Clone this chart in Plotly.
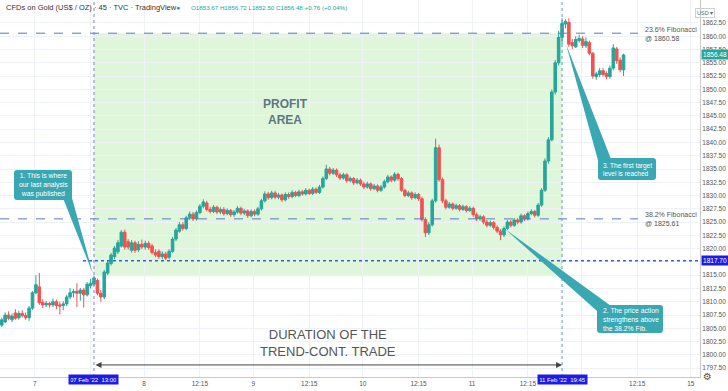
import pandas as pd
import plotly.graph_objects as go

# ---------------- data (45-minute candles, TVC:GOLD) ----------------
open_ = [1805.6, 1806.2, 1807.5, 1806.6, 1807.9, 1807.0, 1807.8, 1807.4, 1807.0, 1808.8,
         1811.7, 1812.8, 1809.9, 1809.4, 1809.7, 1809.4, 1810.0, 1809.4, 1809.3, 1809.6,
         1810.9, 1811.7, 1812.0, 1811.6, 1812.2, 1811.3, 1813.0, 1813.3, 1814.0, 1811.6,
         1810.9, 1815.4, 1817.2, 1818.5, 1819.4, 1820.5, 1823.1, 1821.3, 1819.7, 1821.1,
         1819.8, 1820.8, 1820.3, 1821.0, 1820.5, 1819.3, 1819.5, 1818.5, 1819.0, 1818.4,
         1819.5, 1821.8, 1823.3, 1824.5, 1823.8, 1825.8, 1826.5, 1825.6, 1826.8, 1828.0,
         1828.6, 1827.4, 1827.0, 1827.8, 1826.9, 1827.4, 1826.6, 1827.2, 1826.4, 1826.9,
         1827.6, 1826.7, 1827.1, 1826.2, 1827.0, 1826.5, 1827.5, 1829.0, 1830.3, 1829.6,
         1830.5, 1829.7, 1830.1, 1829.2, 1830.2, 1829.8, 1830.6, 1830.0, 1830.7, 1830.3,
         1831.0, 1830.4, 1831.2, 1830.6, 1831.6, 1833.2, 1835.0, 1834.2, 1834.8, 1833.9,
         1833.3, 1833.9, 1832.8, 1833.2, 1832.4, 1832.9, 1832.2, 1831.6, 1832.2, 1831.3,
         1831.8, 1831.0, 1831.6, 1832.6, 1833.5, 1832.9, 1834.0, 1833.2, 1831.0, 1830.0,
         1830.5, 1829.6, 1830.2, 1829.4, 1825.5, 1823.0, 1824.5, 1829.0, 1839.0, 1833.0,
         1829.0, 1827.8, 1828.4, 1827.6, 1828.1, 1827.4, 1827.9, 1827.2, 1827.6, 1826.4,
         1825.6, 1826.0, 1825.0, 1824.4, 1824.9, 1824.0, 1823.3, 1822.6, 1823.8, 1825.0,
         1824.4, 1825.4, 1825.0, 1826.2, 1825.6, 1826.6, 1827.0, 1826.3, 1828.2, 1831.0,
         1836.5, 1840.5, 1849.5, 1855.0, 1859.8, 1862.3, 1862.6, 1858.8, 1858.0, 1859.2,
         1859.5, 1858.2, 1858.8, 1856.8, 1852.4, 1852.8, 1853.5, 1853.0, 1852.4, 1854.0,
         1857.6, 1855.5, 1853.67]
high = [1807.0, 1808.0, 1808.2, 1807.8, 1808.6, 1808.3, 1808.4, 1808.0, 1809.2, 1812.0,
        1815.0, 1815.4, 1810.5, 1810.2, 1810.0, 1810.6, 1810.4, 1810.0, 1810.1, 1811.3,
        1812.6, 1812.4, 1813.5, 1812.6, 1812.6, 1813.7, 1814.3, 1814.9, 1814.4, 1812.2,
        1816.0, 1817.7, 1819.2, 1820.5, 1821.6, 1823.5, 1823.6, 1821.8, 1821.6, 1821.5,
        1821.4, 1821.7, 1821.5, 1821.4, 1820.9, 1819.9, 1819.9, 1819.5, 1819.4, 1819.9,
        1822.2, 1823.9, 1825.0, 1825.0, 1826.2, 1827.0, 1826.9, 1827.2, 1828.4, 1829.3,
        1829.0, 1827.9, 1828.2, 1828.1, 1827.8, 1827.8, 1827.6, 1827.5, 1827.3, 1828.0,
        1827.9, 1827.5, 1827.4, 1827.4, 1827.4, 1827.9, 1829.4, 1830.8, 1830.7, 1830.9,
        1830.9, 1830.5, 1830.4, 1830.6, 1830.6, 1831.0, 1830.9, 1831.1, 1831.1, 1831.4,
        1831.3, 1831.6, 1831.5, 1832.0, 1833.6, 1835.8, 1835.4, 1835.2, 1835.1, 1834.3,
        1834.3, 1834.2, 1833.6, 1833.5, 1833.3, 1833.2, 1832.6, 1832.6, 1832.5, 1832.2,
        1832.1, 1832.0, 1833.0, 1833.9, 1833.8, 1834.4, 1834.3, 1833.5, 1831.3, 1830.9,
        1830.8, 1830.6, 1830.5, 1829.8, 1825.9, 1825.0, 1829.4, 1840.7, 1839.6, 1833.4,
        1829.4, 1828.8, 1828.7, 1828.5, 1828.4, 1828.3, 1828.2, 1828.0, 1827.9, 1826.8,
        1826.4, 1826.3, 1825.4, 1825.3, 1825.2, 1824.4, 1823.7, 1824.2, 1825.4, 1825.4,
        1825.8, 1825.8, 1826.6, 1826.5, 1827.0, 1827.4, 1827.3, 1828.6, 1831.4, 1837.0,
        1841.0, 1850.0, 1855.5, 1861.0, 1863.4, 1863.2, 1863.4, 1859.5, 1860.0, 1860.3,
        1860.0, 1859.8, 1859.2, 1857.0, 1853.3, 1854.0, 1854.0, 1853.4, 1854.5, 1858.5,
        1858.0, 1856.0, 1856.72]
low = [1805.2, 1806.0, 1806.5, 1806.2, 1806.6, 1806.6, 1807.0, 1806.6, 1806.4, 1808.5,
       1811.4, 1809.4, 1808.8, 1809.0, 1808.9, 1809.0, 1808.6, 1807.6, 1808.4, 1809.2,
       1810.5, 1810.8, 1809.0, 1810.2, 1808.9, 1811.0, 1812.5, 1813.0, 1811.2, 1810.0,
       1810.5, 1815.0, 1816.8, 1818.0, 1819.0, 1820.2, 1819.8, 1819.8, 1819.3, 1819.2,
       1819.4, 1819.9, 1819.8, 1819.8, 1818.9, 1818.4, 1818.1, 1818.0, 1817.8, 1818.0,
       1819.2, 1821.4, 1823.0, 1823.4, 1823.5, 1825.4, 1825.2, 1825.3, 1826.5, 1827.6,
       1827.0, 1826.6, 1826.7, 1826.5, 1826.5, 1826.2, 1826.3, 1826.0, 1826.0, 1826.6,
       1826.3, 1826.3, 1825.8, 1825.9, 1826.1, 1826.2, 1827.2, 1828.7, 1829.2, 1829.3,
       1829.3, 1829.3, 1828.8, 1828.9, 1829.4, 1829.5, 1829.7, 1829.7, 1830.0, 1830.0,
       1830.1, 1830.1, 1830.3, 1830.3, 1831.3, 1832.9, 1833.8, 1833.9, 1833.5, 1832.9,
       1833.0, 1832.4, 1832.5, 1832.0, 1832.1, 1831.8, 1831.2, 1831.3, 1830.9, 1831.0,
       1830.6, 1830.7, 1831.3, 1832.3, 1832.5, 1832.6, 1832.8, 1830.7, 1829.7, 1829.7,
       1829.2, 1829.3, 1829.0, 1825.1, 1822.2, 1822.6, 1824.2, 1828.7, 1832.6, 1828.6,
       1827.4, 1827.5, 1827.2, 1827.3, 1827.0, 1827.1, 1826.8, 1826.9, 1826.0, 1825.2,
       1825.3, 1824.6, 1824.0, 1824.1, 1823.6, 1822.9, 1821.6, 1822.2, 1823.5, 1824.0,
       1824.1, 1824.6, 1824.7, 1825.2, 1825.3, 1826.3, 1825.9, 1826.0, 1827.9, 1830.7,
       1836.0, 1840.2, 1849.0, 1854.5, 1858.5, 1861.5, 1858.0, 1857.6, 1857.8, 1858.8,
       1857.8, 1857.8, 1856.4, 1852.0, 1851.8, 1852.3, 1852.4, 1851.9, 1852.0, 1853.6,
       1854.8, 1853.2, 1852.50]
close = [1806.6, 1807.5, 1806.9, 1807.3, 1806.9, 1807.8, 1807.4, 1807.0, 1808.8, 1811.7,
         1813.2, 1809.8, 1809.4, 1809.7, 1809.4, 1810.0, 1809.3, 1809.2, 1809.6, 1810.9,
         1811.7, 1811.9, 1811.6, 1812.2, 1811.3, 1813.3, 1813.5, 1814.5, 1811.6, 1810.9,
         1815.6, 1817.3, 1818.8, 1820.1, 1821.1, 1823.1, 1820.3, 1820.3, 1821.1, 1819.7,
         1820.8, 1820.3, 1821.0, 1820.2, 1819.3, 1818.8, 1818.5, 1819.0, 1818.2, 1819.5,
         1821.8, 1823.5, 1824.5, 1823.8, 1825.8, 1826.5, 1825.6, 1826.8, 1828.0, 1828.8,
         1827.4, 1827.0, 1827.8, 1826.9, 1827.4, 1826.6, 1827.2, 1826.4, 1826.9, 1827.6,
         1826.7, 1827.1, 1826.2, 1827.0, 1826.5, 1827.5, 1829.0, 1830.3, 1829.6, 1830.5,
         1829.7, 1830.1, 1829.2, 1830.2, 1829.8, 1830.6, 1830.0, 1830.7, 1830.3, 1831.0,
         1830.4, 1831.2, 1830.6, 1831.6, 1833.2, 1835.0, 1834.2, 1834.8, 1833.9, 1833.3,
         1833.9, 1832.8, 1833.2, 1832.4, 1832.9, 1832.2, 1831.6, 1832.2, 1831.3, 1831.8,
         1831.0, 1831.6, 1832.6, 1833.5, 1832.9, 1834.0, 1833.2, 1831.0, 1830.0, 1830.5,
         1829.6, 1830.2, 1829.4, 1825.5, 1823.0, 1824.5, 1829.0, 1839.0, 1833.0, 1829.0,
         1827.8, 1828.4, 1827.6, 1828.1, 1827.4, 1827.9, 1827.2, 1827.6, 1826.4, 1825.6,
         1826.0, 1825.0, 1824.4, 1824.9, 1824.0, 1823.3, 1822.6, 1823.8, 1825.0, 1824.4,
         1825.4, 1825.0, 1826.2, 1825.6, 1826.6, 1827.0, 1826.3, 1828.2, 1831.0, 1836.5,
         1840.5, 1849.5, 1855.0, 1859.8, 1862.4, 1862.8, 1858.5, 1858.2, 1859.4, 1859.6,
         1858.3, 1859.0, 1856.8, 1852.5, 1852.9, 1853.5, 1852.8, 1852.4, 1854.0, 1857.8,
         1855.4, 1853.7, 1856.48]

# bar timestamps: Fri 4 Feb afternoon, then full days 7-11 Feb, then Mon 14 Feb (weekends removed)
times = list(pd.date_range("2022-02-04 16:45", "2022-02-04 23:30", freq="45min"))
for d in ["2022-02-07", "2022-02-08", "2022-02-09", "2022-02-10", "2022-02-11"]:
    times += list(pd.date_range(d + " 00:15", periods=32, freq="45min"))
times += list(pd.date_range("2022-02-14 00:15", periods=len(close) - len(times), freq="45min"))

fib_236 = 1860.58
fib_382 = 1825.61
entry_level = 1817.70
last_price = 1856.48
area_bottom = 1814.8
t_entry = "2022-02-07 13:00"
t_exit = "2022-02-11 19:45"

ytick_vals = [1797.5 + 2.5 * i for i in range(27)]
xtick_vals = ["2022-02-07", "2022-02-07 12:15", "2022-02-08", "2022-02-08 12:15", "2022-02-09", "2022-02-09 12:15",
              "2022-02-10", "2022-02-10 12:15", "2022-02-11", "2022-02-11 12:15", "2022-02-14", "2022-02-14 12:15", "2022-02-15"]
xtick_text = ["7", "", "8", "12:15", "9", "12:15", "10", "12:15", "11", "12:15", "", "12:15", "15"]

# ---------------- geometry helpers (pixels -> paper) ----------------
PW, PH = 700.0, 377.0
def xp(px): return px / PW
def yp(py): return 1 - py / PH

TEAL = "#3aa8b3"
GREEN = "#26a69a"
RED = "#ef5350"
BLUE = "#1c1ce6"
FONT = "Liberation Sans, Arial, sans-serif"

fig = go.Figure()
fig.add_trace(go.Candlestick(
    x=times, open=open_, high=high, low=low, close=close,
    increasing=dict(line=dict(color=GREEN, width=1), fillcolor=GREEN),
    decreasing=dict(line=dict(color=RED, width=1), fillcolor=RED),
    whiskerwidth=0, showlegend=False, hoverinfo="skip"))

shapes = []
shapes.append(dict(type="rect", xref="x", yref="y", x0=t_entry, x1=t_exit, y0=area_bottom, y1=fib_236,
                   fillcolor="rgba(110,215,90,0.22)", line=dict(width=0), layer="below"))
for lvl in (fib_236, fib_382):
    shapes.append(dict(type="line", xref="paper", yref="y", x0=0, x1=xp(638), y0=lvl, y1=lvl,
                       line=dict(color="#5a78c8", width=1, dash="dash")))
shapes.append(dict(type="line", xref="paper", yref="y", x0=xp(83), x1=1, y0=entry_level, y1=entry_level,
                   line=dict(color="#3d5bd9", width=1.5, dash="dot")))
for t, col in ((t_entry, "#7b7fd0"), (t_exit, "#5c9ac8")):
    shapes.append(dict(type="line", xref="x", yref="paper", x0=t, x1=t, y0=0, y1=1,
                       line=dict(color=col, width=1, dash="dot")))


def rrect(x0, y0, x1, y1, r=3):
    pts = (f"M {xp(x0+r)},{yp(y0)} L {xp(x1-r)},{yp(y0)} Q {xp(x1)},{yp(y0)} {xp(x1)},{yp(y0+r)} "
           f"L {xp(x1)},{yp(y1-r)} Q {xp(x1)},{yp(y1)} {xp(x1-r)},{yp(y1)} L {xp(x0+r)},{yp(y1)} "
           f"Q {xp(x0)},{yp(y1)} {xp(x0)},{yp(y1-r)} L {xp(x0)},{yp(y0+r)} Q {xp(x0)},{yp(y0)} {xp(x0+r)},{yp(y0)} Z")
    return dict(type="path", xref="paper", yref="paper", path=pts, fillcolor=TEAL, line=dict(width=0))


def wedge(a, b, tip):
    pts = f"M {xp(a[0])},{yp(a[1])} L {xp(b[0])},{yp(b[1])} L {xp(tip[0])},{yp(tip[1])} Z"
    return dict(type="path", xref="paper", yref="paper", path=pts, fillcolor=TEAL, line=dict(width=0))

shapes += [rrect(14, 170, 72, 200), wedge((63, 198), (72, 198), (93, 274)),
           rrect(597, 305, 663, 333), wedge((597, 311), (611, 306), (505, 229)),
           rrect(598, 158, 656, 180), wedge((599, 164), (611, 159), (566, 44))]

ann = []
def text(px, py, s, size, color, xanchor="left", bold=False, align="left"):
    ann.append(dict(xref="paper", yref="paper", x=xp(px), y=yp(py), text=f"<b>{s}</b>" if bold else s,
                    showarrow=False, xanchor=xanchor, yanchor="middle", align=align,
                    font=dict(family=FONT, size=size, color=color)))

text(4, 7, "CFDs on Gold (US$ / OZ) · 45 · TVC · TradingView", 7.5, "#333333")
text(174, 7, "●", 7, GREEN)
text(189, 7, "O1853.67 H1856.72 L1852.50 C1856.48 +0.76 (+0.04%)", 6.2, GREEN)

text(285, 112, "PROFIT<br>AREA", 12, "#5f7684", xanchor="center", bold=True, align="center")
text(328, 343, "DURATION OF THE<br>TREND-CONT. TRADE", 13, "#555555", xanchor="center", align="center")

text(43, 185, "1. This is where<br>our last analysis<br>was published", 6.8, "white", xanchor="center", align="center")
text(601, 319, "2. The price action<br>strengthens above<br>the 38.2% Fib.", 6.8, "white")
text(601, 169, "3. The first target<br>level is reached", 6.5, "white")

text(643, 34, "23.6% Fibonacci<br>@ 1860.58", 7, "#555555")
text(643, 219, "38.2% Fibonacci<br>@ 1825.61", 7, "#555555")

# axis price tags
ann.append(dict(xref="paper", yref="y", x=xp(701), y=last_price, text="1856.48", showarrow=False, xanchor="left",
                bgcolor=GREEN, font=dict(family=FONT, size=6.5, color="white"), width=24, borderpad=1))
ann.append(dict(xref="paper", yref="y", x=xp(701), y=entry_level, text="1817.70", showarrow=False, xanchor="left",
                bgcolor=BLUE, font=dict(family=FONT, size=6.5, color="white"), width=24, borderpad=1))
ann.append(dict(xref="paper", yref="paper", x=xp(715), y=yp(8), text="USD ▾", showarrow=False,
                bordercolor="#d0d0d0", borderwidth=1, font=dict(family=FONT, size=5.5, color="#666"), borderpad=1))
for t, s in ((t_entry, "07 Feb '22  13:00"), (t_exit, "11 Feb '22  19:45")):
    ann.append(dict(xref="x", yref="paper", x=t, y=yp(384.5), text=s, showarrow=False, xanchor="center",
                    bgcolor=BLUE, font=dict(family=FONT, size=6, color="white"), width=46, borderpad=1.5))
ann.append(dict(xref="paper", yref="paper", x=xp(714), y=yp(384), text="⚙", showarrow=False,
                font=dict(family="DejaVu Sans", size=10, color="#555")))
ann.append(dict(xref="x", yref="y", axref="x", ayref="y", x=t_exit, y=1798.1, ax=t_entry, ay=1798.1,
                showarrow=True, arrowhead=2, startarrowhead=2, arrowside="end+start", arrowsize=1.2,
                arrowwidth=1, arrowcolor="#444444", text=""))

fig.update_layout(
    width=728, height=391, margin=dict(l=0, r=28, t=0, b=14),
    paper_bgcolor="white", plot_bgcolor="white",
    shapes=shapes, annotations=ann, boxgap=0.25, boxgroupgap=0,
    xaxis=dict(type="date", rangebreaks=[dict(bounds=["sat", "mon"])],
               range=["2022-02-04 16:22", "2022-02-15 02:02"], rangeslider=dict(visible=False),
               tickvals=xtick_vals, ticktext=xtick_text, tickfont=dict(family=FONT, size=6.5, color="#555"),
               showgrid=True, gridcolor="#eef1f7", gridwidth=1, showline=True, linecolor="#c9c9c9",
               ticks="", zeroline=False, fixedrange=True),
    yaxis=dict(side="right", range=[1795.83, 1866.83], tickvals=ytick_vals,
               ticktext=[f"{v:.2f}" for v in ytick_vals], tickfont=dict(family=FONT, size=6.5, color="#555"),
               showgrid=True, gridcolor="#eef1f7", gridwidth=1, showline=True, linecolor="#c9c9c9",
               ticks="", zeroline=False, fixedrange=True),
)

fig.write_html("out.html")
